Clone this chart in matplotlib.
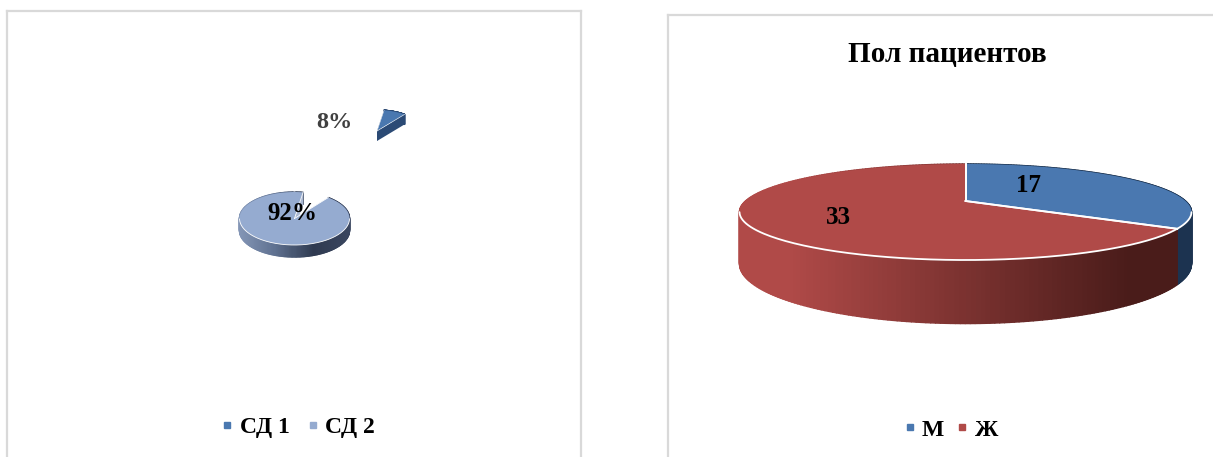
import numpy as np
import matplotlib
matplotlib.use("Agg")
import matplotlib.pyplot as plt
from matplotlib.collections import PolyCollection
from matplotlib.colors import LinearSegmentedColormap
from matplotlib.lines import Line2D

# ---- data ----
dm_categories = ["СД 1", "СД 2"]
dm_values = [8, 92]
dm_labels = ["8%", "92%"]
sex_title = "Пол пациентов"
sex_categories = ["М", "Ж"]
sex_values = [17, 33]
sex_labels = ["17", "33"]

# ---- styling ----
plt.rcParams["font.family"] = ["Liberation Serif", "DejaVu Sans"]
plt.rcParams["font.weight"] = "bold"
FRAME = "#d9d9d9"
BLUE, LIGHT, RED = "#4a78b0", "#95abd0", "#b04a48"


def project(theta, r, geo):
    """Clockwise-from-top angle on the disc -> picture position (perspective)."""
    u, v = r * np.sin(theta), r * np.cos(theta)
    s = 1.0 / (1.0 + geo["k"] * v)
    return geo["cx"] + geo["a"] * u * s, geo["cy"] - geo["b"] * v * s, s


def draw_pie(ax, values, start_deg, geos, tops, walls, faces):
    angles = np.radians(start_deg + np.concatenate([[0], np.cumsum(values)]) / np.sum(values) * 360.0)
    # rim walls
    for i, geo in enumerate(geos):
        th = np.linspace(angles[i], angles[i + 1], 240)
        x, y, s = project(th, 1.0, geo)
        h = geo["h"] * s
        quads = [[(x[j], y[j]), (x[j + 1], y[j + 1]), (x[j + 1], y[j + 1] + h[j + 1]), (x[j], y[j] + h[j])]
                 for j in range(len(th) - 1)]
        frac = ((x[:-1] + x[1:]) / 2 - (geo["cx"] - geo["ext"])) / (2 * geo["ext"])
        cols = walls[i](np.clip(frac, 0, 1))
        order = np.argsort(np.cos(th[:-1]))[::-1]
        ax.add_collection(PolyCollection([quads[j] for j in order], facecolors=cols[order],
                                         edgecolors=cols[order], linewidths=1.0, zorder=2))
    # radial faces (only slices with a gap beside them show one)
    for i, geo in enumerate(geos):
        if faces[i] is None:
            continue
        for th in (angles[i], angles[i + 1]):
            x, y, s = project(th, 1.0, geo)
            x0, y0, s0 = project(0.0, 0.0, geo)
            ax.fill([x0, x, x, x0], [y0, y, y + geo["h"] * s, y0 + geo["h"] * s0],
                    color=faces[i], lw=0, zorder=3)
    # top surfaces
    for i, geo in enumerate(geos):
        th = np.linspace(angles[i], angles[i + 1], 240)
        x, y, s = project(th, 1.0, geo)
        x0, y0, _ = project(0.0, 0.0, geo)
        ax.fill(np.r_[x0, x], np.r_[y0, y], facecolor=tops[i], edgecolor="none", zorder=4)
        # rim highlight on the front of the disc, white radial seams
        front = np.cos(th) < -geo["k"]
        ax.plot(np.where(front, x, np.nan), np.where(front, y, np.nan), color="white",
                lw=geo["seam"], zorder=5, solid_capstyle="round")
        for t in (angles[i], angles[i + 1]):
            xe, ye, _ = project(t, 1.0, geo)
            ax.plot([x0, xe], [y0, ye], color="white", lw=geo["seam"], zorder=5)
    return angles


def frame_axes(fig, left, top, right):
    W, H = 1213.0, 457.0
    ax = fig.add_axes([left / W, 0, (right - left) / W, (H - top) / H])
    ax.set_xlim(left, right)
    ax.set_ylim(H, top)
    ax.set_xticks([])
    ax.set_yticks([])
    ax.patch.set_alpha(0)
    for name, sp in ax.spines.items():
        sp.set_color(FRAME)
        sp.set_linewidth(1.6)
    ax.spines["bottom"].set_visible(False)
    return ax


def legend(ax, names, colors, x, y, colspace):
    handles = [Line2D([], [], ls="", marker="s", ms=4.6, color=c) for c in colors]
    ax.legend(handles, names, loc="center", bbox_to_anchor=(x, y), bbox_transform=ax.transData,
              ncol=len(names), frameon=False, fontsize=17, handletextpad=0.02,
              columnspacing=colspace, handlelength=1.0, borderpad=0, borderaxespad=0)


fig = plt.figure(figsize=(12.13, 4.57), dpi=100, facecolor="white")

# ---- left chart ----
ax1 = frame_axes(fig, 7, 11, 581)
ax1.spines["right"].set_visible(True)
main_geo = dict(cx=294.5, cy=218.5, a=55, b=26.5, k=0.0, h=12, ext=55, seam=0.6)
slice_geo = dict(cx=377, cy=131, a=45, b=21, k=0.0, h=10, ext=45, seam=0.4)
light_wall = LinearSegmentedColormap.from_list("lw", ["#8496b6", "#5f7190", "#2f3a50", "#3a4660"])
blue_wall = LinearSegmentedColormap.from_list("bw", ["#2b4a75", "#2b4a75"])
draw_pie(ax1, dm_values, 9.0, [slice_geo, main_geo], [BLUE, LIGHT], [blue_wall, light_wall],
         ["#2b4a75", "#aab8d2"])
ax1.text(334, 122.5, dm_labels[0], color="#404040", fontsize=17.5, ha="center", va="center", zorder=6)
ax1.text(292, 213.5, dm_labels[1], color="black", fontsize=18, ha="center", va="center", zorder=6)
legend(ax1, dm_categories, [BLUE, LIGHT], 295, 427, 0.48)

# ---- right chart ----
ax2 = frame_axes(fig, 668, 15, 1216)
ax2.spines["right"].set_visible(False)
sex_geo = dict(cx=965.5, cy=201, a=220, b=45.5, k=0.229, h=49, ext=226, seam=1.3)
red_wall = LinearSegmentedColormap.from_list(
    "rw", [(0, RED), (0.11, RED), (0.86, "#4a1c1a"), (1, "#4a1c1a")])
navy_wall = LinearSegmentedColormap.from_list("nw", ["#1c3350", "#1c3350"])
draw_pie(ax2, sex_values, 0.0, [sex_geo, sex_geo], [BLUE, RED], [navy_wall, red_wall],
         [None, None])
ax2.text(1028, 186, sex_labels[0], color="black", fontsize=18, ha="center", va="center", zorder=6)
ax2.text(838, 218, sex_labels[1], color="black", fontsize=18, ha="center", va="center", zorder=6)
ax2.text(947, 55, sex_title, color="black", fontsize=21, ha="center", va="center")
legend(ax2, sex_categories, [BLUE, RED], 948, 430, 0.27)

fig.savefig("out.png", dpi=100)
